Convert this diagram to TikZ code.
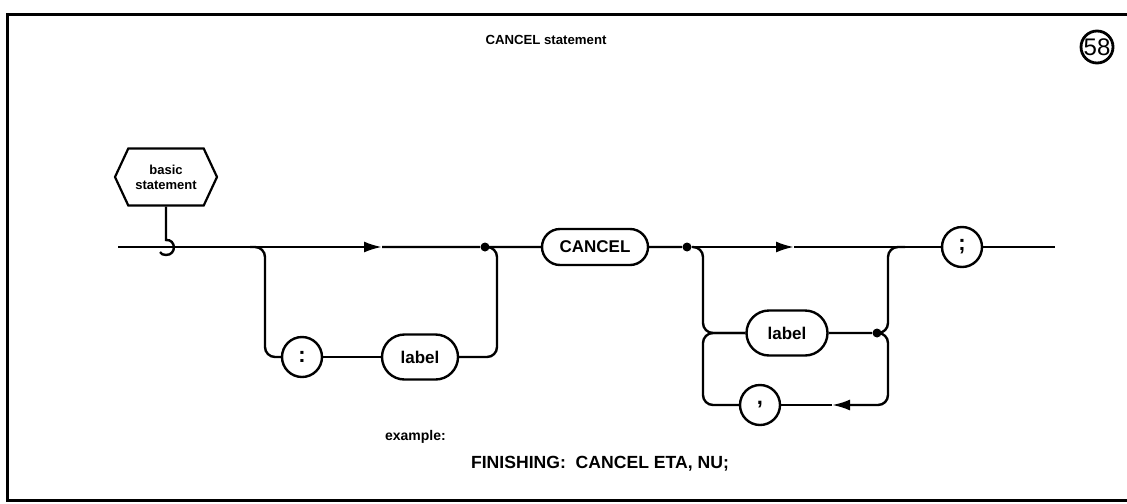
\documentclass[tikz,border=0pt]{standalone}
\usepackage{fontspec}
\setmainfont{Liberation Sans}
\usetikzlibrary{arrows.meta,shapes.misc,shapes.symbols}

\begin{document}
\begin{tikzpicture}[x=0.5pt,y=-0.5pt,
  rail/.style={line width=1.2pt,rounded corners=5pt},
  flow/.style={rail,-{Latex[length=9pt,width=5.5pt]}},
  term/.style={draw,rounded rectangle,line width=1.2pt,inner sep=1pt,minimum height=22.5pt,font=\fontsize{8.5}{10}\selectfont\bfseries},
  sym/.style={draw,circle,line width=1.2pt,inner sep=0pt,minimum size=20pt,font=\fontsize{11}{12}\selectfont\bfseries},
  dot/.style={circle,fill,inner sep=0pt,minimum size=4.5pt},
  hexa/.style={draw,signal,signal to=west and east,signal pointer angle=130,line width=1.1pt,inner sep=1pt,minimum width=51pt,minimum height=28.5pt,align=center,font=\fontsize{6.5}{7.5}\selectfont\bfseries}]
  \useasboundingbox (0,0) rectangle (1127,503);
  \draw[line width=1.5pt] (1127,14) -- (7,14) -- (7,500) -- (1127,500);
  \node[font=\fontsize{6.6}{8}\selectfont\bfseries] (title) at (546,40) {CANCEL statement};
  \node[draw,circle,line width=1.4pt,inner sep=0pt,minimum size=16pt,font=\fontsize{12}{13}\selectfont] (num) at (1097,47) {58};
  % entry
  \node[hexa] (basic) at (166,177) {basic\\statement};
  \coordinate (start) at (118,247);
  \coordinate (hook) at (166,247);
  \coordinate (hooktop) at (166,240);
  \coordinate (split1) at (250,247);
  \coordinate (tip1) at (382,247);
  \node[dot] (dot1) at (485,247) {};
  \node[term,minimum width=55pt,minimum height=18pt] (cancel) at (595,247) {CANCEL};
  \node[dot] (dot2) at (687,247) {};
  \coordinate (tip2) at (794,247);
  \coordinate (merge2) at (905,247);
  \node[sym] (semi) at (962,247) {;};
  \coordinate (stop) at (1055,247);
  % optional label
  \node[sym] (colon) at (302,357) {:};
  \node[term,minimum width=40pt] (label1) at (420,357) {label};
  % label list
  \node[term,minimum width=42.5pt] (label2) at (787,333) {label};
  \node[dot] (dot3) at (877,333) {};
  \node[sym] (comma) at (760,405) {,};
  \coordinate (tip3) at (832,405);
  \coordinate (turn2) at (703,333);
  % main line
  \draw[line width=1.2pt] (basic.south) -- (hooktop) .. controls (176,239) and (177,255) .. (166,255) .. controls (163,255) and (161,254) .. (160,252);
  \draw[rail] (start) -- (hook);
  \draw[flow] (hook) -- (tip1);
  \draw[rail] (tip1) -- (dot1) -- (cancel) -- (dot2);
  \draw[flow] (dot2) -- (tip2);
  \draw[rail] (tip2) -- (semi) -- (stop);
  % bypass 1
  \draw[rail] (split1) -- ++(15,0) |- (colon);
  \draw[rail] (colon) -- (label1);
  \draw[rail] (dot1) -- ++(12,0) |- (label1);
  % bypass 2
  \draw[rail] (dot2) -- ++(16,0) |- (label2);
  \draw[rail] (label2) -- (dot3);
  \draw[rail] (dot3) -- ++(11,0) |- (merge2);
  \draw[flow] (dot3) -- ++(11,0) |- (tip3);
  \draw[rail] (tip3) -- (comma);
  \draw[rail] (comma) -| (turn2) -- (label2);
  % example
  \node[font=\fontsize{7}{8}\selectfont\bfseries,anchor=west] (exlabel) at (378,437) {example:};
  \node[font=\fontsize{8.8}{10}\selectfont\bfseries,anchor=west] (excode) at (464,464) {FINISHING:\ \ CANCEL ETA, NU;};
\end{tikzpicture}
\end{document}
